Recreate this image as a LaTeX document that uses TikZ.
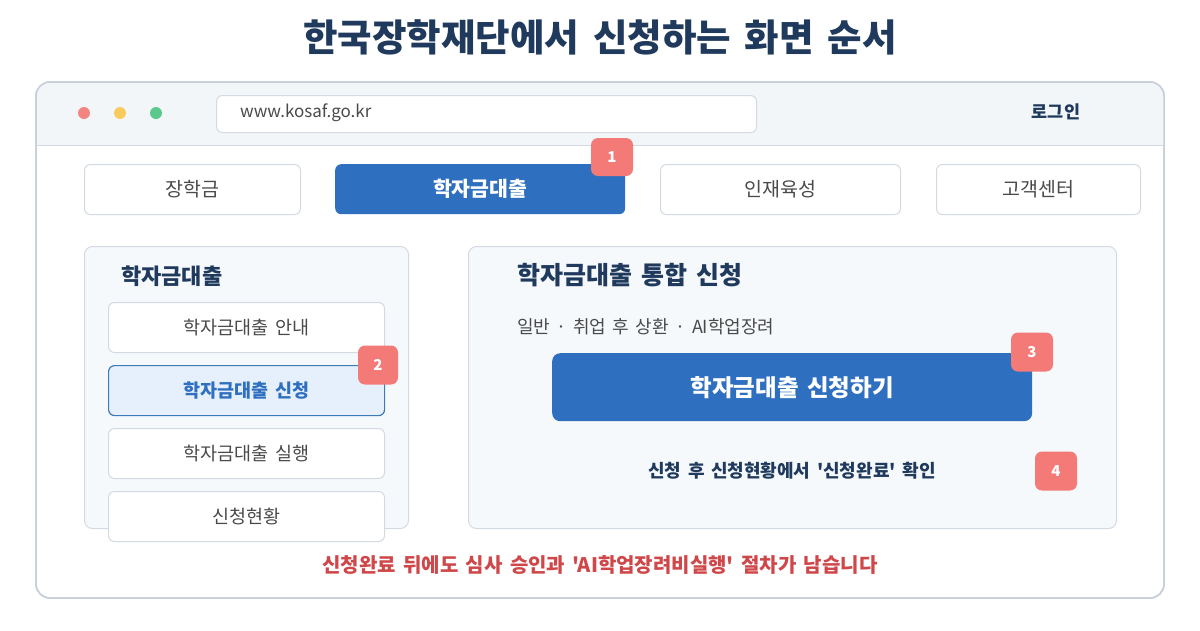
\documentclass[tikz,border=0pt]{standalone}
\usepackage{fontspec}
\newfontfamily\krfont{Noto Sans CJK KR}[WordSpace=1.6]
\definecolor{navy}{HTML}{1F3A5C}
\definecolor{bluebtn}{HTML}{2F6FC0}
\definecolor{coral}{HTML}{F47A78}
\definecolor{lineg}{HTML}{D3DAE3}
\definecolor{winline}{HTML}{C6CED9}
\definecolor{hdr}{HTML}{F3F6F9}
\definecolor{panel}{HTML}{F6F9FC}
\definecolor{txtg}{HTML}{4A4A4A}
\definecolor{redtxt}{HTML}{D0474A}
\definecolor{hilite}{HTML}{E6F0FC}
\definecolor{hiline}{HTML}{3D7AB8}
\definecolor{dotred}{HTML}{F28482}
\definecolor{dotyel}{HTML}{F8CB5E}
\definecolor{dotgrn}{HTML}{5CC98C}
\tikzset{
  box/.style={draw=lineg, line width=1pt, fill=white, rounded corners=6pt},
  tab/.style={box},
  tabtext/.style={text=txtg, font=\fontsize{19.5}{22}\selectfont},
  badge/.style={fill=coral, rounded corners=7pt, text=white, font=\bfseries\fontsize{15}{16}\selectfont},
  menuitem/.style={box},
  menutext/.style={text=txtg, font=\fontsize{18.5}{21}\selectfont},
}
\begin{document}
\krfont
\begin{tikzpicture}[x=1pt,y=-1pt]
\krfont
\useasboundingbox (0,0) rectangle (1200,630);
\fill[white] (0,0) rectangle (1200,630);
% title
\node[font=\bfseries\fontsize{37.5}{42}\selectfont, text=navy] (title) at (600,37) {한국장학재단에서 신청하는 화면 순서};
% window
\draw[draw=winline, line width=1.5pt, fill=white, rounded corners=14pt] (36,82) rectangle (1164,598);
\begin{scope}
\clip[rounded corners=14pt] (36,82) rectangle (1164,598);
\fill[hdr] (36,82) rectangle (1164,145);
\end{scope}
\draw[lineg, line width=1pt] (37,145) -- (1163,145);
\draw[draw=winline, line width=1.5pt, rounded corners=14pt] (36,82) rectangle (1164,598);
\fill[dotred] (84,113) circle (6);
\fill[dotyel] (120,113) circle (6);
\fill[dotgrn] (156,113) circle (6);
\node[box, minimum width=540, minimum height=37, anchor=north west] (url) at (216,95) {};
\node[anchor=west, inner sep=0pt, text=txtg, font=\fontsize{17}{19}\selectfont] (urltext) at (240,113) {www.kosaf.go.kr};
\node[font=\bfseries\fontsize{17.5}{19}\selectfont, text=navy] (login) at (1056,112) {로그인};
% tabs
\node[tab, minimum width=216, minimum height=50, anchor=north west] (t1) at (84,164) {};
\node[tabtext] at (t1.center) {장학금};
\node[fill=bluebtn, rounded corners=6pt, minimum width=290, minimum height=50, anchor=north west] (t2) at (335,164) {};
\node[text=white, font=\bfseries\fontsize{20.5}{22}\selectfont] at (t2.center) {학자금대출};
\node[tab, minimum width=240, minimum height=50, anchor=north west] (t3) at (660,164) {};
\node[tabtext] at (t3.center) {인재육성};
\node[tab, minimum width=204, minimum height=50, anchor=north west] (t4) at (936,164) {};
\node[tabtext] at (t4.center) {고객센터};
\node[badge, minimum width=42, minimum height=38] (b1) at (612,157) {1};
% left panel
\node[draw=lineg, line width=1pt, fill=panel, rounded corners=8pt, minimum width=324, minimum height=282, anchor=north west] (lp) at (84,246) {};
\node[anchor=west, inner sep=0pt, text=navy, font=\bfseries\fontsize{22}{24}\selectfont] (lph) at (121,276) {학자금대출};
\node[menuitem, minimum width=276, minimum height=50, anchor=north west] (m1) at (108,302) {};
\node[menutext] at (m1.center) {학자금대출 안내};
\node[draw=hiline, line width=1.2pt, fill=hilite, rounded corners=6pt, minimum width=276, minimum height=50, anchor=north west] (m2) at (108,365) {};
\node[text=bluebtn, font=\bfseries\fontsize{18.5}{21}\selectfont] at (m2.center) {학자금대출 신청};
\node[menuitem, minimum width=276, minimum height=50, anchor=north west] (m3) at (108,428) {};
\node[menutext] at (m3.center) {학자금대출 실행};
\node[menuitem, minimum width=276, minimum height=50, anchor=north west] (m4) at (108,491) {};
\node[menutext] at (m4.center) {신청현황};
\node[badge, minimum width=40, minimum height=39] (b2) at (378,365) {2};
% right panel
\node[draw=lineg, line width=1pt, fill=panel, rounded corners=8pt, minimum width=648, minimum height=282, anchor=north west] (rp) at (468,246) {};
\node[anchor=west, inner sep=0pt, text=navy, font=\bfseries\fontsize{25}{27}\selectfont] (rph) at (517,275) {학자금대출 통합 신청};
\node[anchor=west, inner sep=0pt, text=txtg, font=\fontsize{18}{20}\selectfont] (rps) at (517,327) {일반 · 취업 후 상환 · AI학업장려};
\node[fill=bluebtn, rounded corners=8pt, minimum width=480, minimum height=68, anchor=north west] (btn) at (552,353) {};
\node[text=white, font=\bfseries\fontsize{23.5}{25}\selectfont] at (btn.center) {학자금대출 신청하기};
\node[badge, minimum width=42, minimum height=39] (b3) at (1032,352) {3};
\node[text=navy, font=\bfseries\fontsize{18}{19}\selectfont] (chk) at (792,471) {신청 후 신청현황에서 '신청완료' 확인};
\node[badge, minimum width=42, minimum height=39] (b4) at (1056,471) {4};
% note
\node[text=redtxt, font=\bfseries\fontsize{20}{21}\selectfont] (note) at (600,565) {신청완료 뒤에도 심사 승인과 'AI학업장려비실행' 절차가 남습니다};
\end{tikzpicture}
\end{document}
